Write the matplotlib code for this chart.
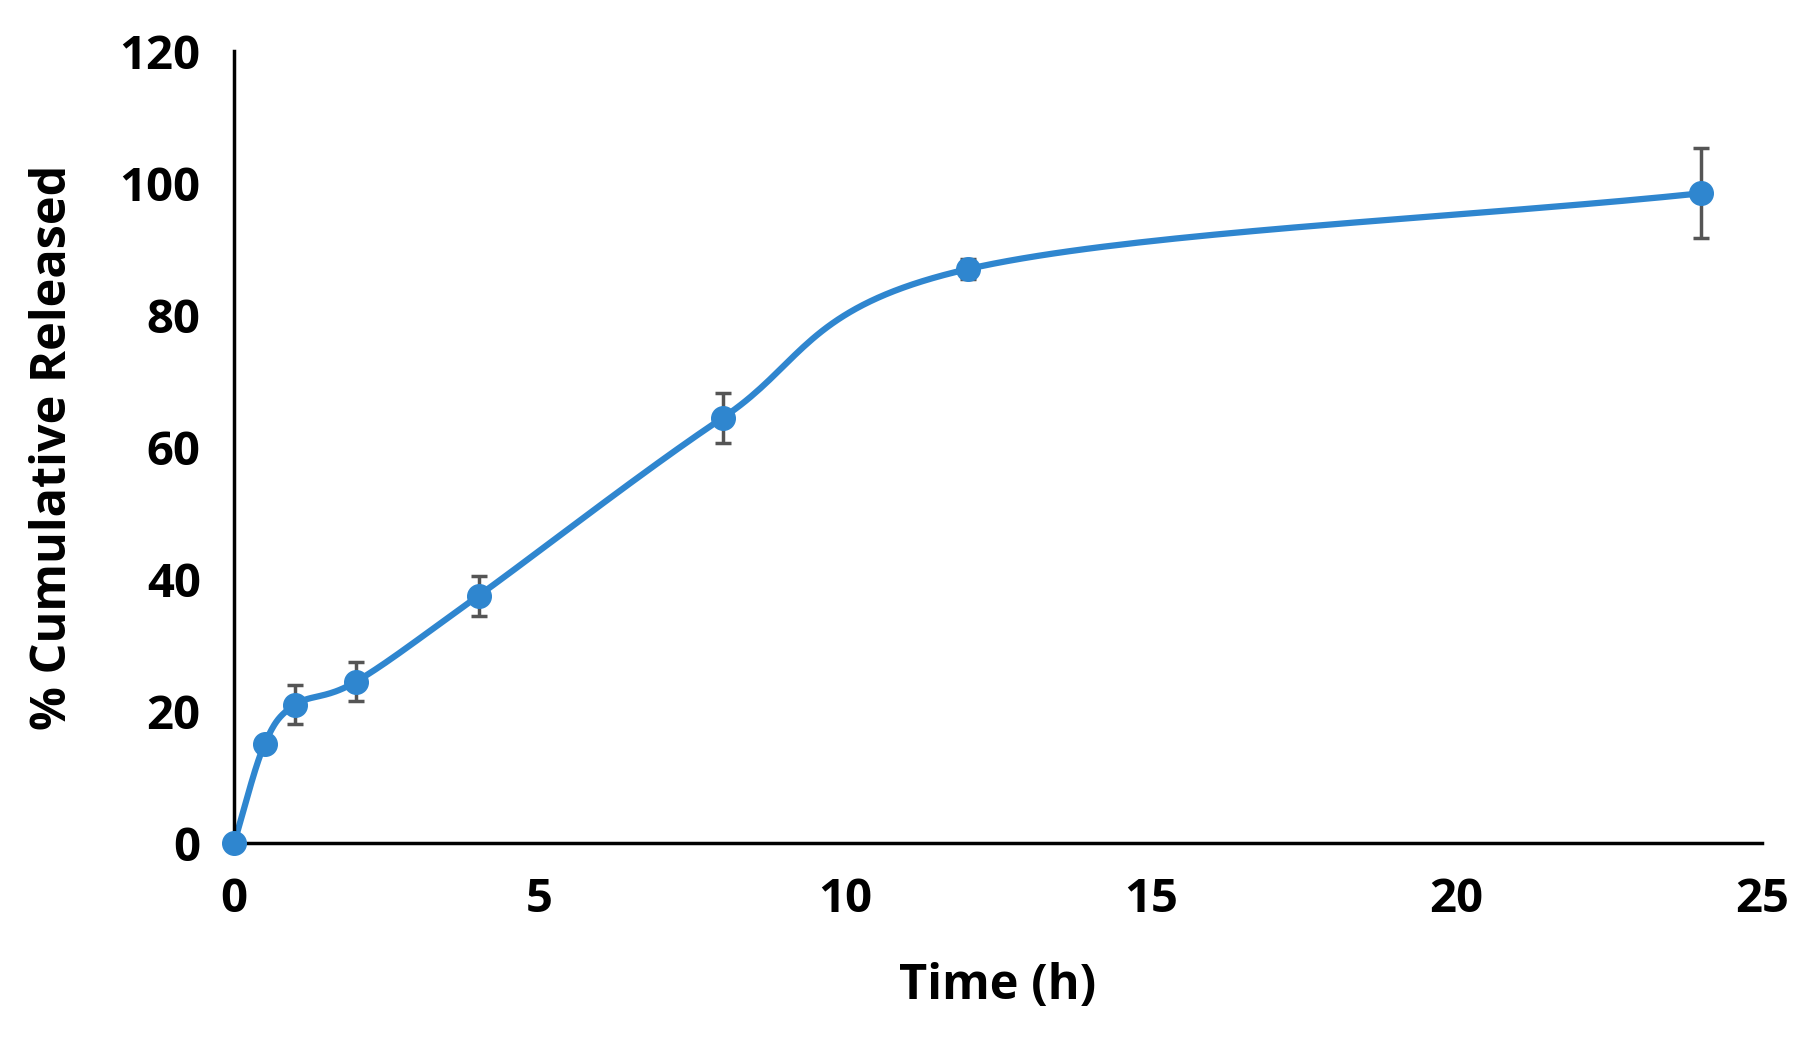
import numpy as np
import matplotlib
matplotlib.use("Agg")
import matplotlib.pyplot as plt

time_h = [0, 0.5, 1, 2, 4, 8, 12, 24]
released = [0, 15, 21, 24.5, 37.5, 64.5, 87, 98.5]
err = [0, 1, 3, 3, 3, 3.8, 1.5, 6.8]

def catmull(x, y, n=40):
    x = np.asarray(x, float); y = np.asarray(y, float)
    px = np.concatenate([[2*x[0]-x[1]], x, [2*x[-1]-x[-2]]])
    py = np.concatenate([[2*y[0]-y[1]], y, [2*y[-1]-y[-2]]])
    ox, oy = [], []
    t = np.linspace(0, 1, n)
    for i in range(1, len(px)-2):
        for P, out in ((px, ox), (py, oy)):
            p0, p1, p2, p3 = P[i-1], P[i], P[i+1], P[i+2]
            out.extend(0.5*((2*p1) + (-p0+p2)*t + (2*p0-5*p1+4*p2-p3)*t**2 + (-p0+3*p1-3*p2+p3)*t**3))
    return np.array(ox), np.array(oy)

plt.rcParams['font.family'] = ['Open Sans', 'DejaVu Sans']
fig = plt.figure(figsize=(18, 10.5), dpi=100)
ax = fig.add_axes([0.13, 0.197, 0.849, 0.754])
sx, sy = catmull(time_h, released)
color = '#2F86CF'
ax.plot(sx, sy, color=color, lw=4.5, zorder=2)
ax.errorbar(time_h, released, yerr=err, fmt='o', color=color, ms=17,
            ecolor='#555555', elinewidth=2.5, capsize=6, capthick=2.5, zorder=3)
ax.set_xlim(0, 25)
ax.set_ylim(0, 120)
ax.set_xticks(range(0, 26, 5))
ax.set_yticks(range(0, 121, 20))
ax.spines['top'].set_visible(False)
ax.spines['right'].set_visible(False)
for s in ('left', 'bottom'):
    ax.spines[s].set_linewidth(2.5)
ax.tick_params(length=0, labelsize=34, pad=24)
for lab in ax.get_xticklabels() + ax.get_yticklabels():
    lab.set_fontweight('bold')
ax.set_xlabel('Time (h)', fontsize=35, fontweight='bold', labelpad=28)
ax.set_ylabel('% Cumulative Released', fontsize=35, fontweight='bold', labelpad=30)
for c in ax.get_children():
    try: c.set_clip_on(False)
    except Exception: pass
fig.savefig('out.png')
